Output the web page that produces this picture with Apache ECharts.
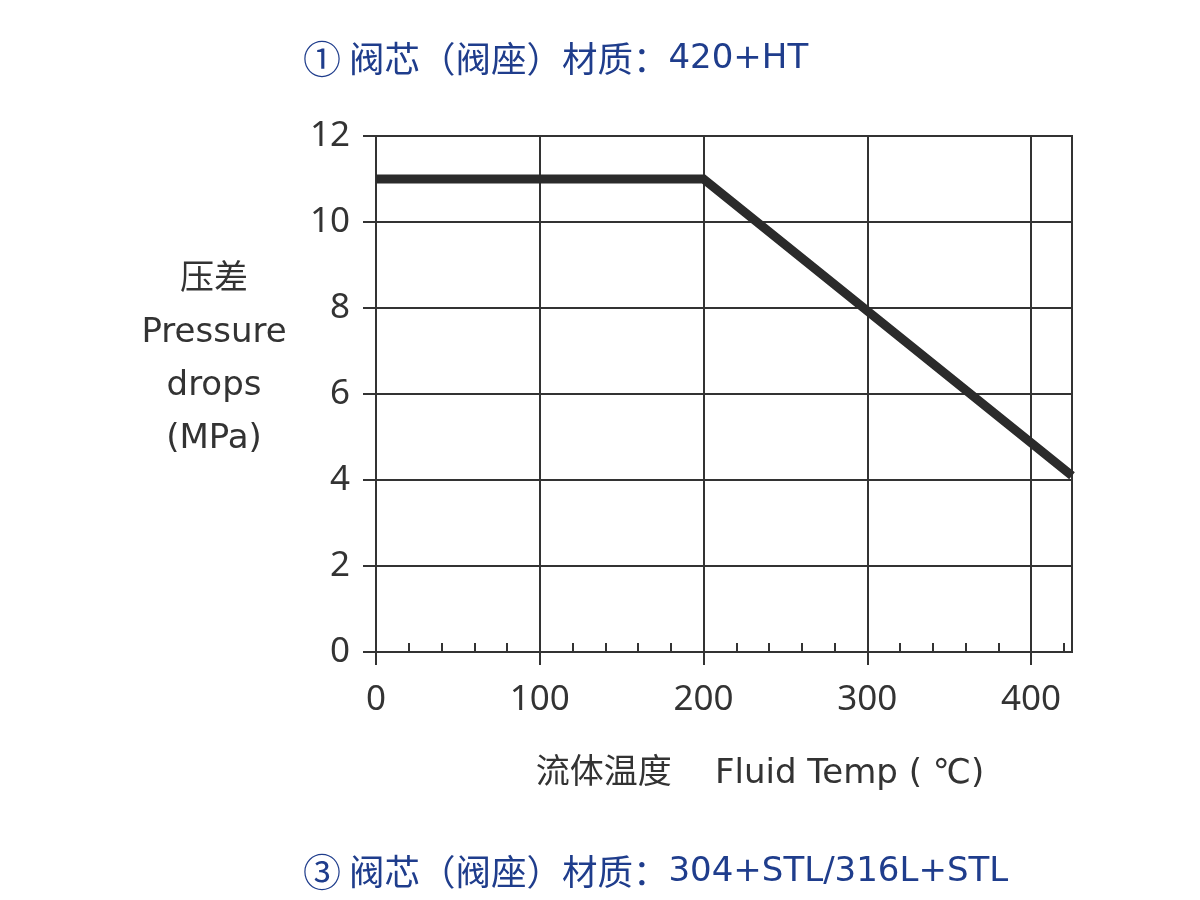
<!DOCTYPE html>
<html>
<head>
<meta charset="utf-8">
<script src="https://cdn.jsdelivr.net/npm/echarts@6/dist/echarts.min.js"></script>
<style>
  html, body { margin: 0; padding: 0; background: #fff; }
  #chart { width: 1200px; height: 900px; }
</style>
</head>
<body>
<div id="chart"></div>
<script>
// 数据
var tempPoints = [0, 200, 425];
var pressureValues = [11, 11, 4.1];
var xMajorTicks = [0, 100, 200, 300, 400];
var xMin = 0, xMax = 425;
var yMin = 0, yMax = 12, yStep = 2;

var titleTop = ['①', ' 阀芯（阀座）材质：', '420+HT'];
var titleBottom = ['③', ' 阀芯（阀座）材质：', '304+STL/316L+STL'];
var yName = '压差\nPressure\ndrops\n(MPa)';
var xName = '流体温度    Fluid Temp ( ℃)';

var font = "'DejaVu Sans', 'Noto Sans CJK SC', sans-serif";
var cjkFont = "'Noto Sans CJK SC', sans-serif";
var tickFont = "'Noto Sans', 'Noto Sans CJK SC', sans-serif";
var ink = '#333';
var blue = '#1f3d8c';

var lineData = tempPoints.map(function (t, i) { return [t, pressureValues[i]]; });

function headText(parts) {
    return '{num|' + parts[0] + '}{cjk|' + parts[1] + '}{lat|' + parts[2] + '}';
}

function headStyle() {
    return {
        fontFamily: font, fontSize: 34, fontWeight: 'normal', color: blue,
        rich: {
            num: { fontFamily: cjkFont, fontSize: 38, color: blue, verticalAlign: 'middle', lineHeight: 44 },
            cjk: { fontFamily: cjkFont, fontSize: 35.5, color: blue, verticalAlign: 'middle', lineHeight: 44 },
            lat: { fontFamily: font, fontSize: 34, color: blue, verticalAlign: 'middle', lineHeight: 44 }
        }
    };
}

var chart = echarts.init(document.getElementById('chart'));
chart.setOption({
    animation: false,
    title: [
        {
            text: headText(titleTop), left: 303, top: 37, padding: 0,
            textStyle: headStyle()
        },
        {
            text: headText(titleBottom), left: 303, top: 850, padding: 0,
            textStyle: headStyle()
        },
        {
            text: yName, left: 214, top: 254, textAlign: 'center', padding: 0,
            textStyle: { fontFamily: font, fontSize: 34, fontWeight: 'normal', color: ink, lineHeight: 53 }
        },
        {
            text: xName, left: 760, top: 757, textAlign: 'center', padding: 0,
            textStyle: { fontFamily: font, fontSize: 34, fontWeight: 'normal', color: ink }
        }
    ],
    grid: {
        left: 376, right: 128, top: 136, bottom: 248,
        show: true, borderColor: ink, borderWidth: 2, backgroundColor: 'transparent'
    },
    xAxis: [
        {
            type: 'value', min: xMin, max: xMax, interval: 100, position: 'bottom',
            axisLine: { show: true, lineStyle: { color: ink, width: 2 } },
            axisTick: { show: true, inside: false, length: 13, customValues: xMajorTicks,
                        lineStyle: { color: ink, width: 2 } },
            axisLabel: { customValues: xMajorTicks, margin: 31, fontSize: 35, color: ink, fontFamily: tickFont },
            splitLine: { show: true, lineStyle: { color: ink, width: 2 } }
        },
        {
            // 小刻度
            type: 'value', min: xMin, max: xMax, interval: 20, position: 'bottom',
            axisLine: { show: false },
            axisTick: { show: true, inside: true, length: 9, lineStyle: { color: ink, width: 2 } },
            axisLabel: { show: false },
            splitLine: { show: false }
        }
    ],
    yAxis: {
        type: 'value', min: yMin, max: yMax, interval: yStep,
        axisLine: { show: false },
        axisTick: { show: true, inside: false, length: 13, lineStyle: { color: ink, width: 2 } },
        axisLabel: { margin: 26, fontSize: 35, color: ink, fontFamily: tickFont },
        splitLine: { show: true, lineStyle: { color: ink, width: 2 } }
    },
    series: [
        {
            type: 'line',
            data: lineData,
            symbol: 'none',
            lineStyle: { color: '#2b2b2b', width: 9, join: 'miter' }
        }
    ]
});
</script>
</body>
</html>
